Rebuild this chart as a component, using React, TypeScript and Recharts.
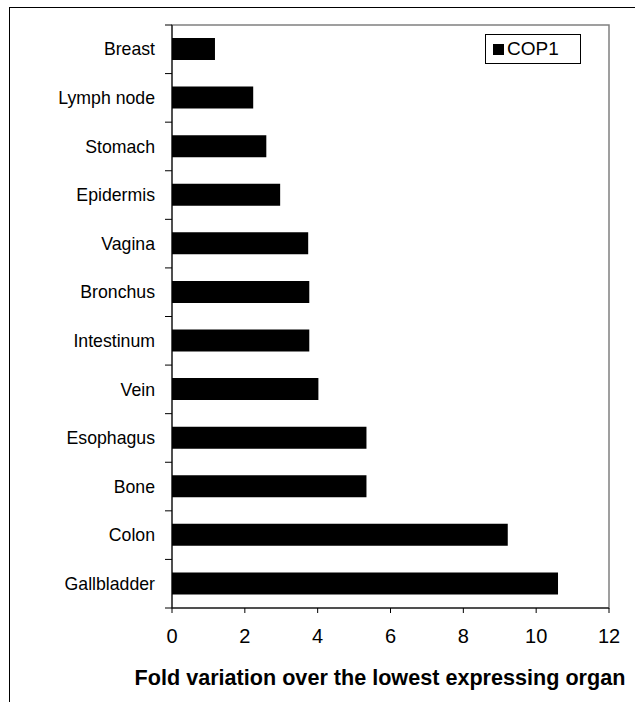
import { BarChart, Bar, XAxis, YAxis, Legend, ReferenceArea } from "recharts";

const organs = [
  "Breast",
  "Lymph node",
  "Stomach",
  "Epidermis",
  "Vagina",
  "Bronchus",
  "Intestinum",
  "Vein",
  "Esophagus",
  "Bone",
  "Colon",
  "Gallbladder",
];
const cop1 = [1.18, 2.23, 2.59, 2.97, 3.74, 3.77, 3.77, 4.02, 5.34, 5.34, 9.22, 10.6];
const xTicks = [0, 2, 4, 6, 8, 10, 12];
const seriesName = "COP1";
const xTitle = "Fold variation over the lowest expressing organ";

const data = organs.map((organ, i) => ({ organ, cop1: cop1[i] }));

const FONT = "Arial, 'Liberation Sans', sans-serif";
const TOP = 25;
const BOTTOM = 608;
const BAND = (BOTTOM - TOP) / organs.length;

// Excel-style category ticks: marks sit between categories, label in the middle
function OrganTick(props: any) {
  const { y, payload, index } = props;
  return (
    <g>
      <line x1={165} x2={172} y1={y - BAND / 2} y2={y - BAND / 2} stroke="#000" />
      {index === organs.length - 1 && (
        <line x1={165} x2={172} y1={y + BAND / 2} y2={y + BAND / 2} stroke="#000" />
      )}
      <text
        x={155}
        y={y}
        dy="0.35em"
        textAnchor="end"
        fill="#000"
        fontSize={17.7}
        fontFamily={FONT}
      >
        {payload.value}
      </text>
    </g>
  );
}

function LegendBox() {
  return (
    <div
      style={{
        border: "1px solid #000",
        background: "#fff",
        display: "flex",
        alignItems: "center",
        height: 30,
        paddingLeft: 7,
        boxSizing: "border-box",
        fontFamily: FONT,
        fontSize: 19,
        color: "#000",
      }}
    >
      <span style={{ width: 11, height: 11, background: "#000", marginRight: 3 }} />
      {seriesName}
    </div>
  );
}

export default function App() {
  return (
    <div
      style={{
        position: "absolute",
        left: 0,
        top: 0,
        width: 635,
        height: 702,
        overflow: "hidden",
        background: "#fff",
      }}
    >
      <div
        style={{
          position: "absolute",
          left: 9,
          top: 7,
          width: 700,
          height: 800,
          border: "1px solid #000",
        }}
      />
      <BarChart
        width={635}
        height={702}
        data={data}
        layout="vertical"
        margin={{ top: TOP, right: 26, bottom: 34, left: 0 }}
      >
        {/* plot area frame (grey), left and bottom are covered by the axes */}
        <ReferenceArea x1={0} x2={12} fill="none" stroke="#808080" strokeWidth={1.5} />
        <XAxis
          type="number"
          domain={[0, 12]}
          ticks={xTicks}
          interval={0}
          height={60}
          tickSize={5}
          tickMargin={16}
          axisLine={{ stroke: "#000" }}
          tickLine={{ stroke: "#000" }}
          tick={{ fill: "#000", fontSize: 20, fontFamily: FONT }}
        />
        <YAxis
          type="category"
          dataKey="organ"
          width={172}
          interval={0}
          tickLine={false}
          axisLine={{ stroke: "#000" }}
          tick={<OrganTick />}
        />
        <Legend
          layout="horizontal"
          align="center"
          verticalAlign="middle"
          content={<LegendBox />}
          wrapperStyle={{ position: "absolute", left: 485, top: 34, width: 96 }}
        />
        <Bar dataKey="cop1" name={seriesName} fill="#000" barSize={22} isAnimationActive={false} />
      </BarChart>
      <div
        style={{
          position: "absolute",
          left: 0,
          width: 760,
          top: 665,
          textAlign: "center",
          fontFamily: FONT,
          fontWeight: "bold",
          fontSize: 21.6,
          color: "#000",
          whiteSpace: "nowrap",
        }}
      >
        {xTitle}
      </div>
    </div>
  );
}
